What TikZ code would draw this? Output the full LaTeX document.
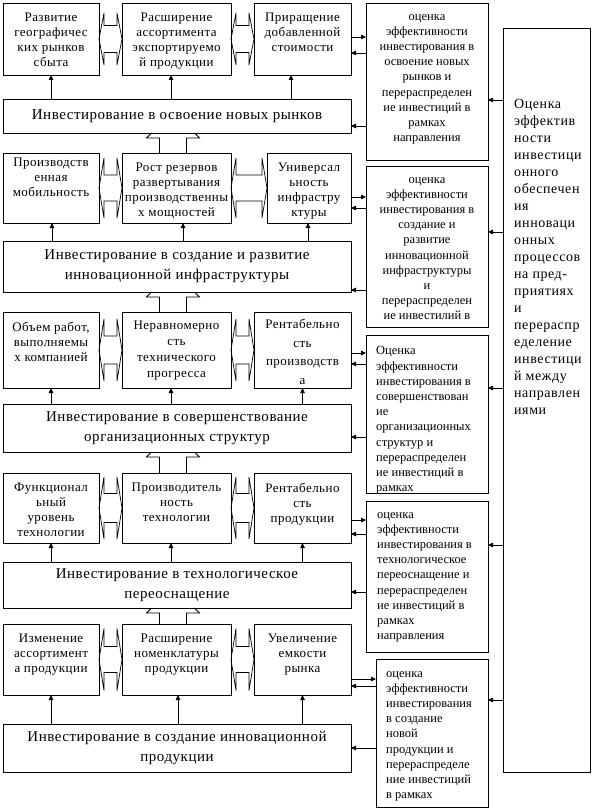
\documentclass[tikz,border=0pt]{standalone}
\usepackage{fontspec}
\setmainfont{Liberation Serif}
\usetikzlibrary{arrows.meta,calc}
\newcommand\mybox[5]{\node[box,minimum width=#4pt-#2pt,minimum height=#5pt-#3pt] (#1) at (#2,#3) {};}
\newcommand\rtext[3]{\node[rtxt] (#1) at ([yshift=-9.5pt]#2.north) {#3};}
\newcommand\uarr[3]{\draw[arr] let \p1=([xshift=#3pt]#2.south), \p2=(#1.north) in (\x1,\y2) -- (\p1);}
\newcommand\dbl[4]{\draw[dbl] let \p1=(#1.east), \p2=(#2.west) in
 (\x1,\y1) -- (\x1+5pt,\y1+#3pt) -- (\x1+5pt,\y1+#4pt) -- (\x2-5pt,\y1+#4pt) -- (\x2-5pt,\y1+#3pt) -- (\x2,\y1) -- (\x2-5pt,\y1-#3pt) -- (\x2-5pt,\y1-#4pt) -- (\x1+5pt,\y1-#4pt) -- (\x1+5pt,\y1-#3pt) -- cycle;}
\newcommand\blk[2]{\draw[blk] let \p1=(#1.north), \p2=(#2.south) in
 (\x1-17pt,\y1) -- (\x1-17pt,\y2-5pt) -- (\x1-30pt,\y2-5pt) -- (\x1-25pt,\y2)
 (\x1+10pt,\y1) -- (\x1+10pt,\y2-5pt) -- (\x1+23pt,\y2-5pt) -- (\x1+18pt,\y2);}
\newcommand\toE[3]{\draw[arr] let \p1=([yshift=-#3pt]#1.north east), \p2=(#2.west) in (\p1) -- (\x2,\y1);}
\newcommand\fromE[3]{\draw[arr] let \p1=([yshift=-#3pt]#1.north east), \p2=(#2.west) in (\x2,\y1) -- (\p1);}
\newcommand\fromB[3]{\draw[arr] let \p1=([yshift=-#3pt]#1.north west), \p2=(#2.east) in (\p1) -- (\x2,\y1);}
\begin{document}
\begin{tikzpicture}[x=1pt,y=-1pt,
  box/.style={draw,line width=0.8pt,inner sep=0,outer sep=0,anchor=north west},
  rtxt/.style={inner sep=0,anchor=north,align=center,font=\fontsize{13}{15}\selectfont\addfontfeatures{LetterSpace=3.5},execute at begin node=\strut},
  btxt/.style={inner sep=0,align=center,font=\fontsize{15}{20}\selectfont\addfontfeatures{LetterSpace=3.5}},
  etxt/.style={inner sep=0,anchor=north,align=center,font=\fontsize{12.5}{15.2}\selectfont,execute at begin node=\strut},
  eltxt/.style={inner sep=0,anchor=north west,align=left,font=\fontsize{12.5}{15.2}\selectfont,execute at begin node=\strut},
  bigtxt/.style={inner sep=0,anchor=north west,align=left,font=\fontsize{14}{17}\selectfont\addfontfeatures{LetterSpace=4},execute at begin node=\strut},
  arr/.style={line width=0.8pt,-{Triangle[length=5pt,width=4.5pt]}},
  dbl/.style={line width=0.7pt},
  blk/.style={line width=0.8pt}]
\useasboundingbox[fill=white] (0,0) rectangle (594,810);

% ---------- row 1
\mybox{r1l}{3}{3}{99}{75}
\mybox{r1m}{122}{3}{231}{75}
\mybox{r1r}{254}{3}{351}{75}
\mybox{b1}{3}{99}{351}{133}
\rtext{t1l}{r1l}{Развитие\\географичес\\ких рынков\\сбыта}
\rtext{t1m}{r1m}{Расширение\\ассортимента\\экспортируемо\\й продукции}
\rtext{t1r}{r1r}{Приращение\\добавленной\\стоимости}
\node[btxt] (tb1) at (b1.center) {Инвестирование в освоение новых рынков};

% ---------- row 2
\mybox{r2l}{3}{153}{99}{223}
\mybox{r2m}{122}{153}{231}{223}
\mybox{r2r}{267}{153}{351}{223}
\mybox{b2}{3}{241}{351}{292}
\node[rtxt] (t2l) at ([yshift=-5pt]r2l.north) {Производств\\енная\\мобильность};
\rtext{t2m}{r2m}{Рост резервов\\развертывания\\производственны\\х мощностей}
\rtext{t2r}{r2r}{Универсал\\ьность\\инфрастру\\ктуры}
\node[btxt] (tb2) at (b2.center) {Инвестирование в создание и развитие\\инновационной инфраструктуры};

% ---------- row 3
\mybox{r3l}{3}{312}{99}{388}
\mybox{r3m}{122}{312}{231}{388}
\mybox{r3r}{254}{312}{351}{388}
\mybox{b3}{3}{404}{351}{452}
\rtext{t3l}{r3l}{Объем работ,\\выполняемы\\х компанией}
\node[rtxt,font=\fontsize{13}{16}\selectfont\addfontfeatures{LetterSpace=3.5}] (t3m) at ([yshift=-9pt]r3m.north) {Неравномерно\\сть\\технического\\прогресса};
\node[rtxt,font=\fontsize{13}{18.5}\selectfont\addfontfeatures{LetterSpace=3.5}] (t3r) at ([yshift=-7pt]r3r.north) {Рентабельно\\сть\\производств\\а};
\node[btxt] (tb3) at (b3.center) {Инвестирование в совершенствование\\организационных структур};

% ---------- row 4
\mybox{r4l}{3}{473}{99}{543}
\mybox{r4m}{122}{473}{231}{543}
\mybox{r4r}{254}{473}{351}{543}
\mybox{b4}{3}{562}{351}{608}
\rtext{t4l}{r4l}{Функционал\\ьный\\уровень\\технологии}
\rtext{t4m}{r4m}{Производитель\\ность\\технологии}
\rtext{t4r}{r4r}{Рентабельно\\сть\\продукции}
\node[btxt] (tb4) at (b4.center) {Инвестирование в технологическое\\переоснащение};

% ---------- row 5
\mybox{r5l}{3}{624}{99}{695}
\mybox{r5m}{122}{624}{231}{695}
\mybox{r5r}{254}{624}{351}{695}
\mybox{b5}{3}{724}{351}{772}
\rtext{t5l}{r5l}{Изменение\\ассортимент\\а продукции}
\rtext{t5m}{r5m}{Расширение\\номенклатуры\\продукции}
\rtext{t5r}{r5r}{Увеличение\\емкости\\рынка}
\node[btxt] (tb5) at (b5.center) {Инвестирование в создание инновационной\\продукции};

% ---------- evaluation boxes
\mybox{E1}{366}{3}{488}{160}
\mybox{E2}{366}{166}{488}{327}
\mybox{E3}{366}{335}{488}{493}
\mybox{E4}{366}{501}{488}{652}
\mybox{E5}{376}{659}{488}{807}
\mybox{B}{503}{28}{590}{772}
\node[etxt] (te1) at ([yshift=-11pt]E1.north) {оценка\\эффективности\\инвестирования в\\освоение новых\\рынков и\\перераспределен\\ие инвестиций в\\рамках\\направления};
\node[etxt] (te2) at ([yshift=-11pt]E2.north) {оценка\\эффективности\\инвестирования в\\создание и\\развитие\\инновационной\\инфраструктуры\\и\\перераспределен\\ие инвестилий в};
\begin{scope}
\clip (366,335) rectangle (488,493);
\node[eltxt] (te3) at ([xshift=10pt,yshift=-11.5pt]E3.north west) {Оценка\\эффективности\\инвестирования в\\совершенствован\\ие\\организационных\\структур и\\перераспределен\\ие инвестиций в\\рамках};
\end{scope}
\node[eltxt] (te4) at ([xshift=11pt,yshift=-11pt]E4.north west) {оценка\\эффективности\\инвестирования в\\технологическое\\переоснащение и\\перераспределен\\ие инвестиций в\\рамках\\направления};
\node[eltxt] (te5) at ([xshift=10pt,yshift=-12pt]E5.north west) {оценка\\эффективности\\инвестирования\\в создание\\новой\\продукции и\\перераспределе\\ние инвестиций\\в рамках};
\node[bigtxt] (tB) at (514,99) {Оценка\\эффектив\\ности\\инвестици\\онного\\обеспечен\\ия\\инноваци\\онных\\процессов\\на пред-\\приятиях\\и\\перераспр\\еделение\\инвестици\\й между\\направлен\\иями};

% ---------- up arrows from bands
\uarr{b1}{r1l}{0} \uarr{b1}{r1m}{-5.5} \uarr{b1}{r1r}{-11.5}
\uarr{b2}{r2l}{1} \uarr{b2}{r2m}{6.5} \uarr{b2}{r2r}{-1}
\uarr{b3}{r3l}{0} \uarr{b3}{r3m}{-5.5} \uarr{b3}{r3r}{0}
\uarr{b4}{r4l}{0} \uarr{b4}{r4m}{-5.5} \uarr{b4}{r4r}{0}
\uarr{b5}{r5l}{0} \uarr{b5}{r5m}{1.5} \uarr{b5}{r5r}{0}

% ---------- double arrows between boxes
\dbl{r1l}{r1m}{26}{13.5} \dbl{r1m}{r1r}{26}{13.5}
\dbl{r2l}{r2m}{30}{13} \dbl{r2m}{r2r}{30}{13}
\dbl{r3l}{r3m}{31}{14} \dbl{r3m}{r3r}{31}{14}
\dbl{r4l}{r4m}{31}{14.5} \dbl{r4m}{r4r}{31}{14.5}
\dbl{r5l}{r5m}{31}{13} \dbl{r5m}{r5r}{31}{13}

% ---------- block arrows from row boxes up to bands
\blk{r2m}{b1}
\blk{r3m}{b2}
\blk{r4m}{b3}
\blk{r5m}{b4}

% ---------- arrows to/from evaluation boxes
\toE{r1r}{E1}{34} \fromE{r1r}{E1}{50} \fromE{b1}{E1}{27}
\toE{r2r}{E2}{44} \fromE{r2r}{E2}{55} \fromE{b2}{E2}{49}
\toE{r3r}{E3}{41} \fromE{r3r}{E3}{52} \fromE{b3}{E3}{33}
\toE{r4r}{E4}{47} \fromE{r4r}{E4}{61} \fromE{b4}{E4}{30}
\toE{r5r}{E5}{55} \fromE{r5r}{E5}{62} \fromE{b5}{E5}{24}

% ---------- arrows from the big box
\fromB{B}{E1}{72}
\fromB{B}{E2}{204}
\fromB{B}{E3}{360}
\fromB{B}{E4}{517}
\fromB{B}{E5}{672}
\end{tikzpicture}
\end{document}
